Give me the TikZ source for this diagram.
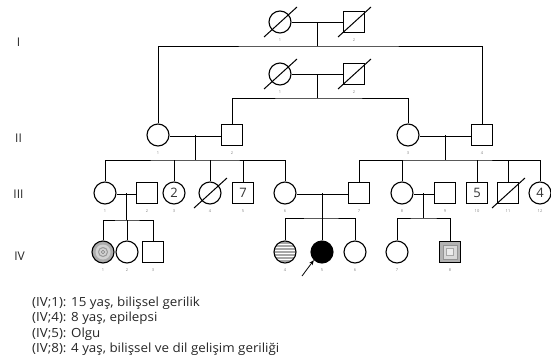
\documentclass[tikz,border=0pt]{standalone}
\usepackage{fontspec}
\setmainfont{Open Sans}
\newfontfamily\legfont{Open Sans}[FakeStretch=1.06]
\usetikzlibrary{calc,arrows.meta}

\newcommand{\deceased}[1]{\draw[line width=1pt] ($(#1)+(-16,15)$) -- ($(#1)+(17,-15)$);}

\begin{document}
\begin{tikzpicture}[x=1pt,y=-1pt,
    female/.style={circle,draw,line width=1.1pt,minimum size=22pt,inner sep=0pt},
    male/.style={rectangle,draw,line width=1.1pt,minimum size=21pt,inner sep=0pt},
    nr/.style={label={[lbl]below:#1}},
    lbl/.style={font=\fontsize{4}{5}\selectfont,text=gray,label distance=2pt},
    count/.style={font=\fontsize{13}{13}\selectfont,text=black!80},
    gen/.style={font=\fontsize{12}{12}\selectfont,text=black!85},
    legend/.style={anchor=base west,inner sep=0pt,font=\legfont\fontsize{12.6}{13}\selectfont,text=black!85},
    kin/.style={line width=0.9pt},
    marry/.style={line width=0.7pt,double,double distance=1.6pt}]

    \useasboundingbox (0,0) rectangle (551,362);

    % generation labels
    \node[gen] (gI) at (18.5,42) {I};
    \node[gen] (gII) at (18.5,138) {II};
    \node[gen] (gIII) at (18.5,194) {III};
    \node[gen] (gIV) at (19.5,256) {IV};

    % generation I
    \node[female,nr=1] (Ia1) at (280,22) {};
    \node[male,nr=2] (Ia2) at (354,22) {};
    \node[female,nr=1] (Ib1) at (280,74) {};
    \node[male,nr=2] (Ib2) at (354,74) {};
    \deceased{Ia1} \deceased{Ia2} \deceased{Ib1} \deceased{Ib2}

    % generation II
    \node[female,nr=1] (II1) at (158,135) {};
    \node[male,nr=2] (II2) at (232,135) {};
    \node[female,nr=3] (II3) at (408,135) {};
    \node[male,nr=4] (II4) at (482,135) {};

    % generation III
    \node[female,nr=1] (III1) at (105,193) {};
    \node[male,nr=2] (III2) at (147,193) {};
    \node[female,nr=3,count] (III3) at (174,193) {2};
    \node[female,nr=4] (III4) at (210,193) {};
    \node[male,nr=5,count] (III5) at (243,193) {7};
    \node[female,nr=6] (III6) at (285,193) {};
    \node[male,nr=7] (III7) at (359,193) {};
    \node[female,nr=8] (III8) at (402,193) {};
    \node[male,nr=9] (III9) at (445,193) {};
    \node[male,nr=10,count] (III10) at (477,193) {5};
    \node[male,nr=11] (III11) at (508,193) {};
    \node[female,nr=12,count] (III12) at (540,193) {4};
    \deceased{III4} \deceased{III11}

    % generation IV
    \node[female,nr=1,fill=gray!65] (IV1) at (103,252) {};
    \fill[gray!35] (IV1) circle (7.5pt);
    \draw[gray!80,line width=1pt] (IV1) circle (4.5pt);
    \draw[gray,line width=0.6pt] (IV1) circle (1.8pt);
    \node[female,nr=2] (IV2) at (127,252) {};
    \node[male,nr=3] (IV3) at (153,252) {};
    \node[female,nr=4,fill=white,path picture={
        \foreach \k in {-9,-6,...,9}
            \draw[gray!70,line width=1.4pt] ($(path picture bounding box.center)+(-12,\k)$) -- +(24,0);
    }] (IV4) at (285,252) {};
    \node[female,nr=5,fill=black] (IV5) at (322,252) {};
    \node[female,nr=6] (IV6) at (355,252) {};
    \node[female,nr=7] (IV7) at (397,252) {};
    \node[male,nr=8,fill=gray!60] (IV8) at (450,252) {};
    \draw[gray!85,fill=gray!30,line width=0.8pt] ($(IV8)+(-7,-7)$) rectangle ($(IV8)+(7,7)$);
    \draw[gray!70,fill=gray!15,line width=0.6pt] ($(IV8)+(-3.5,-3.5)$) rectangle ($(IV8)+(3.5,3.5)$);

    % couples
    \draw[kin] (Ia1) -- (Ia2);
    \draw[kin] (Ib1) -- (Ib2);
    \draw[marry] (II1) -- (II2);
    \draw[marry] (II3) -- (II4);
    \draw[marry] (III1) -- (III2);
    \draw[marry] (III6) -- (III7);
    \draw[marry] (III8) -- (III9);

    % descent lines
    \coordinate (sA) at ($(Ia1)!0.5!(Ia2)+(0,24)$);
    \coordinate (sB) at ($(Ib1)!0.5!(Ib2)+(0,24)$);
    \coordinate (sC) at ($(II1)!0.5!(II2)+(0,25)$);
    \coordinate (sD) at ($(II3)!0.5!(II4)+(0,25)$);
    \coordinate (sE) at ($(III1)!0.5!(III2)+(0,27)$);
    \coordinate (sF) at ($(III6)!0.5!(III7)+(0,25)$);
    \coordinate (sG) at ($(III8)!0.5!(III9)+(0,25)$);

    \draw[kin] ($(Ia1)!0.5!(Ia2)$) -- (sA);
    \draw[kin] (II1.north) |- (sA) -| (II4.north);
    \draw[kin] ($(Ib1)!0.5!(Ib2)$) -- (sB);
    \draw[kin] (II2.north) |- (sB) -| (II3.north);

    \draw[kin] ($(II1)!0.5!(II2)$) -- (sC);
    \draw[kin] (III1.north) |- (sC) -| (III6.north);
    \foreach \c in {III3,III4,III5}
        \draw[kin] (\c.north) -- (\c.north |- sC);

    \draw[kin] ($(II3)!0.5!(II4)$) -- (sD);
    \draw[kin] (III7.north) |- (sD) -| (III12.north);
    \foreach \c in {III8,III10,III11}
        \draw[kin] (\c.north) -- (\c.north |- sD);

    \draw[kin] ($(III1)!0.5!(III2)$) -- (sE);
    \draw[kin] (IV1.north) |- (sE) -| (IV3.north);
    \draw[kin] (IV2.north) -- (IV2.north |- sE);

    \draw[kin] ($(III6)!0.5!(III7)$) -- (sF);
    \draw[kin] (IV4.north) |- (sF) -| (IV6.north);
    \draw[kin] (IV5.north) -- (IV5.north |- sF);

    \draw[kin] ($(III8)!0.5!(III9)$) -- (sG);
    \draw[kin] (IV7.north) |- (sG) -| (IV8.north);

    % proband
    \coordinate (arr) at (302,276);
    \draw[line width=0.8pt,-{Stealth[length=5pt,width=4pt]}] (arr) -- (IV5.south west);

    % legend
    \node[legend] (leg1) at (32,306) {(IV;1): 15 yaş, bilişsel gerilik};
    \node[legend] (leg2) at (32,321.5) {(IV;4): 8 yaş, epilepsi};
    \node[legend] (leg3) at (32,337) {(IV;5): Olgu};
    \node[legend] (leg4) at (32,352.5) {(IV;8): 4 yaş, bilişsel ve dil gelişim geriliği};
\end{tikzpicture}
\end{document}
